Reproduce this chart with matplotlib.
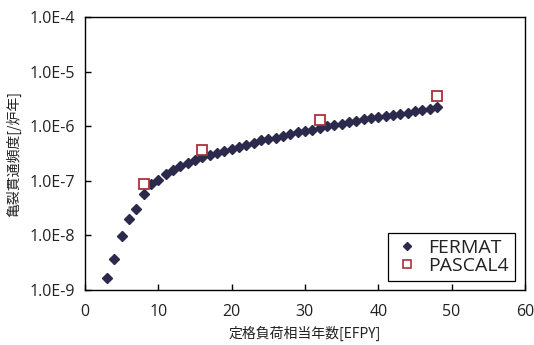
import matplotlib.pyplot as plt
import numpy as np
from matplotlib.lines import Line2D
from matplotlib.ticker import FixedLocator, FixedFormatter

plt.rcParams['font.family'] = ['Open Sans', 'Noto Sans CJK JP', 'DejaVu Sans']

# FERMAT: crack penetration frequency per reactor-year
fermat_x = list(range(3, 49))
fermat_y = [1.66e-9, 3.7e-9, 9.8e-9, 2.0e-8, 3.1e-8, 5.8e-8, 8.7e-8, 1.05e-7,
            1.33e-7, 1.55e-7, 1.9e-7, 2.1e-7, 2.4e-7, 2.7e-7, 3.0e-7, 3.2e-7,
            3.55e-7, 3.8e-7, 4.1e-7, 4.6e-7, 5.0e-7, 5.5e-7, 5.8e-7, 6.2e-7,
            6.7e-7, 7.3e-7, 7.7e-7, 8.2e-7, 8.7e-7, 9.3e-7, 1.0e-6, 1.07e-6,
            1.12e-6, 1.18e-6, 1.26e-6, 1.35e-6, 1.4e-6, 1.47e-6, 1.55e-6,
            1.62e-6, 1.7e-6, 1.78e-6, 1.9e-6, 2.0e-6, 2.08e-6, 2.22e-6]

# PASCAL4
pascal_x = [8, 16, 32, 48]
pascal_y = [8.7e-8, 3.6e-7, 1.29e-6, 3.55e-6]

y_ticks = [1e-9, 1e-8, 1e-7, 1e-6, 1e-5, 1e-4]
y_labels = ['1.0E-9', '1.0E-8', '1.0E-7', '1.0E-6', '1.0E-5', '1.0E-4']

navy = '#2b2a4c'
red = '#a8323c'

fig = plt.figure(figsize=(5.34, 3.45), dpi=100)
ax = fig.add_axes([0.159, 0.159, 0.824, 0.792])

ax.plot(fermat_x, fermat_y, linestyle='none', marker='D', markersize=5.5,
        color=navy)
ax.plot(pascal_x, pascal_y, linestyle='none', marker='s', markersize=6.5,
        markerfacecolor='white', markeredgecolor=red, markeredgewidth=1.3)

ax.set_yscale('log')
ax.set_ylim(1e-9, 1e-4)
ax.set_xlim(0, 60)
ax.set_xticks(np.arange(0, 61, 10))
ax.yaxis.set_major_locator(FixedLocator(y_ticks))
ax.yaxis.set_major_formatter(FixedFormatter(y_labels))
ax.yaxis.set_minor_locator(FixedLocator([]))

ax.tick_params(direction='in', length=4, width=1, labelsize=11.5,
               colors='black', labelcolor='#222222')
ax.tick_params(axis='x', pad=10)
ax.tick_params(axis='y', pad=7)
for s in ax.spines.values():
    s.set_linewidth(1.0)
    s.set_color('black')

ax.set_xlabel('定格負荷相当年数[EFPY]', fontsize=10, labelpad=4,
              family=['Noto Sans CJK JP'], color='#222222')
ax.set_ylabel('亀裂貫通頻度[/炉年]', fontsize=10, labelpad=6,
              family=['Noto Sans CJK JP'], color='#222222')

handles = [
    Line2D([], [], linestyle='none', marker='D', markersize=3.6, color=navy),
    Line2D([], [], linestyle='none', marker='s', markersize=5.2,
           markerfacecolor='white', markeredgecolor=red, markeredgewidth=1.2),
]
leg = ax.legend(handles, ['FERMAT', 'PASCAL4'], loc='lower right',
                bbox_to_anchor=(0.977, 0.033), fontsize=14,
                fancybox=False, framealpha=1, edgecolor='black',
                handlelength=1.4, handletextpad=0.4,
                borderpad=0.3, labelspacing=0.0, borderaxespad=0)
leg.get_frame().set_linewidth(0.9)
for t in leg.get_texts():
    t.set_color('#222222')

fig.savefig('out.png', dpi=100)
